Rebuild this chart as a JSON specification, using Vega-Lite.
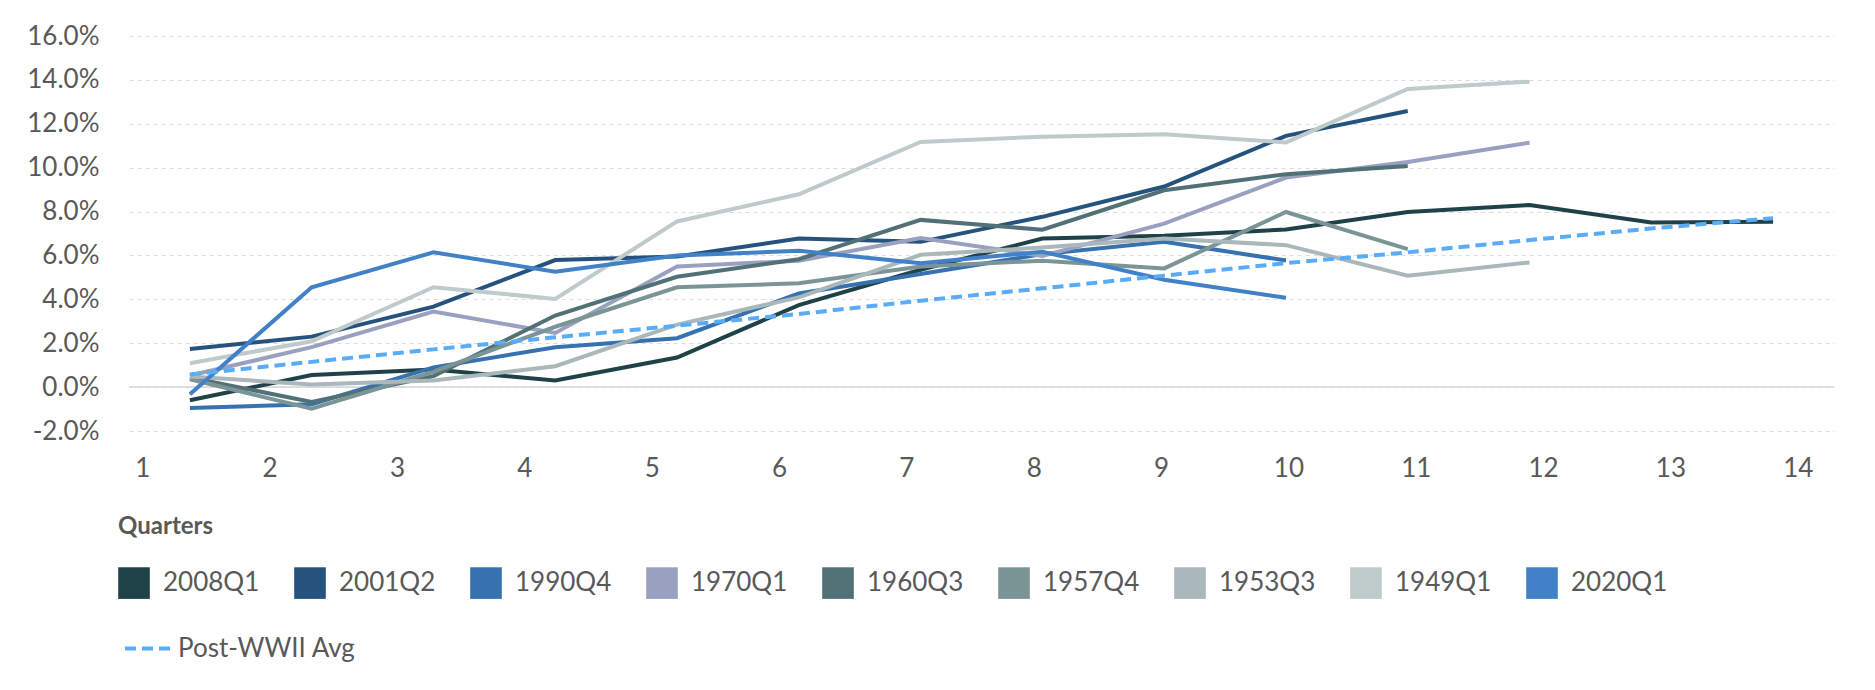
{
  "$schema": "https://vega.github.io/schema/vega-lite/v6.json",
  "width": 1705,
  "height": 395,
  "autosize": {"type": "none"},
  "padding": {"left": 129, "top": 36, "right": 41, "bottom": 259},
  "background": "white",
  "config": {
    "view": {"stroke": null},
    "font": "Lato",
    "axis": {"labelFont": "Lato", "labelColor": "#595959", "labelFontSize": 26},
    "legend": {"labelFont": "Lato", "titleFont": "Lato"}
  },
  "data": {
    "values": [
      {"q": 1, "series": "2008Q1", "v": -0.6},
      {"q": 2, "series": "2008Q1", "v": 0.55},
      {"q": 3, "series": "2008Q1", "v": 0.8},
      {"q": 4, "series": "2008Q1", "v": 0.3},
      {"q": 5, "series": "2008Q1", "v": 1.35},
      {"q": 6, "series": "2008Q1", "v": 3.74},
      {"q": 7, "series": "2008Q1", "v": 5.35},
      {"q": 8, "series": "2008Q1", "v": 6.77},
      {"q": 9, "series": "2008Q1", "v": 6.9},
      {"q": 10, "series": "2008Q1", "v": 7.18},
      {"q": 11, "series": "2008Q1", "v": 7.98},
      {"q": 12, "series": "2008Q1", "v": 8.3},
      {"q": 13, "series": "2008Q1", "v": 7.5},
      {"q": 14, "series": "2008Q1", "v": 7.53},

      {"q": 1, "series": "2001Q2", "v": 1.74},
      {"q": 2, "series": "2001Q2", "v": 2.3},
      {"q": 3, "series": "2001Q2", "v": 3.67},
      {"q": 4, "series": "2001Q2", "v": 5.79},
      {"q": 5, "series": "2001Q2", "v": 5.95},
      {"q": 6, "series": "2001Q2", "v": 6.77},
      {"q": 7, "series": "2001Q2", "v": 6.62},
      {"q": 8, "series": "2001Q2", "v": 7.76},
      {"q": 9, "series": "2001Q2", "v": 9.14},
      {"q": 10, "series": "2001Q2", "v": 11.45},
      {"q": 11, "series": "2001Q2", "v": 12.58},

      {"q": 1, "series": "1990Q4", "v": -0.95},
      {"q": 2, "series": "1990Q4", "v": -0.78},
      {"q": 3, "series": "1990Q4", "v": 0.9},
      {"q": 4, "series": "1990Q4", "v": 1.82},
      {"q": 5, "series": "1990Q4", "v": 2.23},
      {"q": 6, "series": "1990Q4", "v": 4.27},
      {"q": 7, "series": "1990Q4", "v": 5.15},
      {"q": 8, "series": "1990Q4", "v": 6.06},
      {"q": 9, "series": "1990Q4", "v": 6.62},
      {"q": 10, "series": "1990Q4", "v": 5.77},

      {"q": 1, "series": "1970Q1", "v": 0.53},
      {"q": 2, "series": "1970Q1", "v": 1.82},
      {"q": 3, "series": "1970Q1", "v": 3.44},
      {"q": 4, "series": "1970Q1", "v": 2.47},
      {"q": 5, "series": "1970Q1", "v": 5.5},
      {"q": 6, "series": "1970Q1", "v": 5.76},
      {"q": 7, "series": "1970Q1", "v": 6.79},
      {"q": 8, "series": "1970Q1", "v": 5.98},
      {"q": 9, "series": "1970Q1", "v": 7.45},
      {"q": 10, "series": "1970Q1", "v": 9.55},
      {"q": 11, "series": "1970Q1", "v": 10.26},
      {"q": 12, "series": "1970Q1", "v": 11.14},

      {"q": 1, "series": "1960Q3", "v": 0.44},
      {"q": 2, "series": "1960Q3", "v": -0.68},
      {"q": 3, "series": "1960Q3", "v": 0.5},
      {"q": 4, "series": "1960Q3", "v": 3.26},
      {"q": 5, "series": "1960Q3", "v": 5.03},
      {"q": 6, "series": "1960Q3", "v": 5.83},
      {"q": 7, "series": "1960Q3", "v": 7.62},
      {"q": 8, "series": "1960Q3", "v": 7.17},
      {"q": 9, "series": "1960Q3", "v": 8.97},
      {"q": 10, "series": "1960Q3", "v": 9.7},
      {"q": 11, "series": "1960Q3", "v": 10.08},

      {"q": 1, "series": "1957Q4", "v": 0.36},
      {"q": 2, "series": "1957Q4", "v": -0.98},
      {"q": 3, "series": "1957Q4", "v": 0.7},
      {"q": 4, "series": "1957Q4", "v": 2.75},
      {"q": 5, "series": "1957Q4", "v": 4.55},
      {"q": 6, "series": "1957Q4", "v": 4.73},
      {"q": 7, "series": "1957Q4", "v": 5.5},
      {"q": 8, "series": "1957Q4", "v": 5.76},
      {"q": 9, "series": "1957Q4", "v": 5.41},
      {"q": 10, "series": "1957Q4", "v": 7.98},
      {"q": 11, "series": "1957Q4", "v": 6.29},

      {"q": 1, "series": "1953Q3", "v": 0.48},
      {"q": 2, "series": "1953Q3", "v": 0.12},
      {"q": 3, "series": "1953Q3", "v": 0.3},
      {"q": 4, "series": "1953Q3", "v": 0.95},
      {"q": 5, "series": "1953Q3", "v": 2.85},
      {"q": 6, "series": "1953Q3", "v": 4.09},
      {"q": 7, "series": "1953Q3", "v": 6.03},
      {"q": 8, "series": "1953Q3", "v": 6.36},
      {"q": 9, "series": "1953Q3", "v": 6.77},
      {"q": 10, "series": "1953Q3", "v": 6.47},
      {"q": 11, "series": "1953Q3", "v": 5.08},
      {"q": 12, "series": "1953Q3", "v": 5.68},

      {"q": 1, "series": "1949Q1", "v": 1.09},
      {"q": 2, "series": "1949Q1", "v": 2.09},
      {"q": 3, "series": "1949Q1", "v": 4.55},
      {"q": 4, "series": "1949Q1", "v": 4.02},
      {"q": 5, "series": "1949Q1", "v": 7.55},
      {"q": 6, "series": "1949Q1", "v": 8.79},
      {"q": 7, "series": "1949Q1", "v": 11.17},
      {"q": 8, "series": "1949Q1", "v": 11.41},
      {"q": 9, "series": "1949Q1", "v": 11.52},
      {"q": 10, "series": "1949Q1", "v": 11.15},
      {"q": 11, "series": "1949Q1", "v": 13.59},
      {"q": 12, "series": "1949Q1", "v": 13.92},

      {"q": 1, "series": "2020Q1", "v": -0.33},
      {"q": 2, "series": "2020Q1", "v": 4.55},
      {"q": 3, "series": "2020Q1", "v": 6.14},
      {"q": 4, "series": "2020Q1", "v": 5.26},
      {"q": 5, "series": "2020Q1", "v": 6.0},
      {"q": 6, "series": "2020Q1", "v": 6.21},
      {"q": 7, "series": "2020Q1", "v": 5.65},
      {"q": 8, "series": "2020Q1", "v": 6.17},
      {"q": 9, "series": "2020Q1", "v": 4.89},
      {"q": 10, "series": "2020Q1", "v": 4.07},

      {"q": 1, "series": "Post-WWII Avg", "v": 0.58},
      {"q": 2, "series": "Post-WWII Avg", "v": 1.15},
      {"q": 3, "series": "Post-WWII Avg", "v": 1.72},
      {"q": 4, "series": "Post-WWII Avg", "v": 2.27},
      {"q": 5, "series": "Post-WWII Avg", "v": 2.8},
      {"q": 6, "series": "Post-WWII Avg", "v": 3.33},
      {"q": 7, "series": "Post-WWII Avg", "v": 3.94},
      {"q": 8, "series": "Post-WWII Avg", "v": 4.5},
      {"q": 9, "series": "Post-WWII Avg", "v": 5.08},
      {"q": 10, "series": "Post-WWII Avg", "v": 5.65},
      {"q": 11, "series": "Post-WWII Avg", "v": 6.14},
      {"q": 12, "series": "Post-WWII Avg", "v": 6.7},
      {"q": 13, "series": "Post-WWII Avg", "v": 7.23},
      {"q": 14, "series": "Post-WWII Avg", "v": 7.7}
    ]
  },
  "layer": [
    {
      "data": {"values": [{"v": 0}]},
      "mark": {"type": "rule", "color": "#d4d4d4", "strokeWidth": 1.5},
      "encoding": {
        "y": {"field": "v", "type": "quantitative", "title": null}
      }
    },
    {
      "transform": [{"filter": "datum.series !== 'Post-WWII Avg'"}],
      "mark": {"type": "line", "strokeWidth": 4},
      "encoding": {
        "x": {
          "field": "q",
          "type": "quantitative",
          "title": null,
          "scale": {"domain": [0.5, 14.5], "nice": false, "zero": false},
          "axis": {
            "values": [0.609, 1.655, 2.7, 3.746, 4.792, 5.837, 6.883, 7.929, 8.974, 10.02, 11.066, 12.111, 13.157, 14.203],
            "labelExpr": "'' + (round((datum.value - 0.609) / 1.0457) + 1)",
            "grid": false,
            "domain": false,
            "ticks": false,
            "tickSize": 0,
            "labelPadding": 24,
            "labelFlush": false,
            "labelOverlap": false
          }
        },
        "y": {
          "field": "v",
          "type": "quantitative",
          "title": null,
          "scale": {"domain": [-2, 16], "nice": false, "zero": false},
          "axis": {
            "values": [-2, 0, 2, 4, 6, 8, 10, 12, 14, 16],
            "labelExpr": "replace(format(datum.value, '.1f'), '\u2212', '-') + '%'",
            "domain": false,
            "ticks": false,
            "tickSize": 0,
            "grid": true,
            "gridDash": [4, 4],
            "gridColor": "#dcdcdc",
            "gridWidth": 1,
            "labelPadding": 30,
            "labelFlush": false,
            "labelOverlap": false
          }
        },
        "color": {
          "field": "series",
          "type": "nominal",
          "scale": {
            "domain": ["2008Q1", "2001Q2", "1990Q4", "1970Q1", "1960Q3", "1957Q4", "1953Q3", "1949Q1", "2020Q1"],
            "range": ["#1f4249", "#26527e", "#3671b0", "#9aa1c0", "#527176", "#7b9597", "#aab8bb", "#bfcaca", "#4181c8"]
          },
          "legend": {
            "title": "Quarters",
            "orient": "none",
            "legendX": -11,
            "legendY": 479,
            "direction": "horizontal",
            "columns": 9,
            "gridAlign": "all",
            "symbolType": "square",
            "symbolSize": 1000,
            "symbolStrokeWidth": 0,
            "labelFontSize": 26,
            "labelColor": "#595959",
            "labelOffset": 13,
            "labelLimit": 400,
            "columnPadding": 34,
            "titleFontSize": 24,
            "titleFontWeight": "bold",
            "titleColor": "#595959",
            "titlePadding": 28,
            "padding": 0,
            "encode": {
              "symbols": {
                "update": {
                  "fill": {"scale": "color", "field": "value"},
                  "fillOpacity": {"value": 1},
                  "strokeWidth": {"value": 0}
                }
              }
            }
          }
        }
      }
    },
    {
      "transform": [{"filter": "datum.series === 'Post-WWII Avg'"}],
      "mark": {"type": "line", "strokeWidth": 4, "color": "#5aacf7"},
      "encoding": {
        "x": {"field": "q", "type": "quantitative"},
        "y": {"field": "v", "type": "quantitative"},
        "strokeDash": {
          "field": "series",
          "type": "nominal",
          "scale": {"domain": ["Post-WWII Avg"], "range": [[11, 6]]},
          "legend": {
            "title": null,
            "orient": "none",
            "legendX": -6,
            "legendY": 588,
            "symbolType": "stroke",
            "symbolSize": 2025,
            "symbolStrokeColor": "#5aacf7",
            "symbolStrokeWidth": 4,
            "labelFontSize": 26,
            "labelColor": "#595959",
            "labelOffset": 6,
            "labelLimit": 400,
            "padding": 0
          }
        }
      }
    }
  ]
}
